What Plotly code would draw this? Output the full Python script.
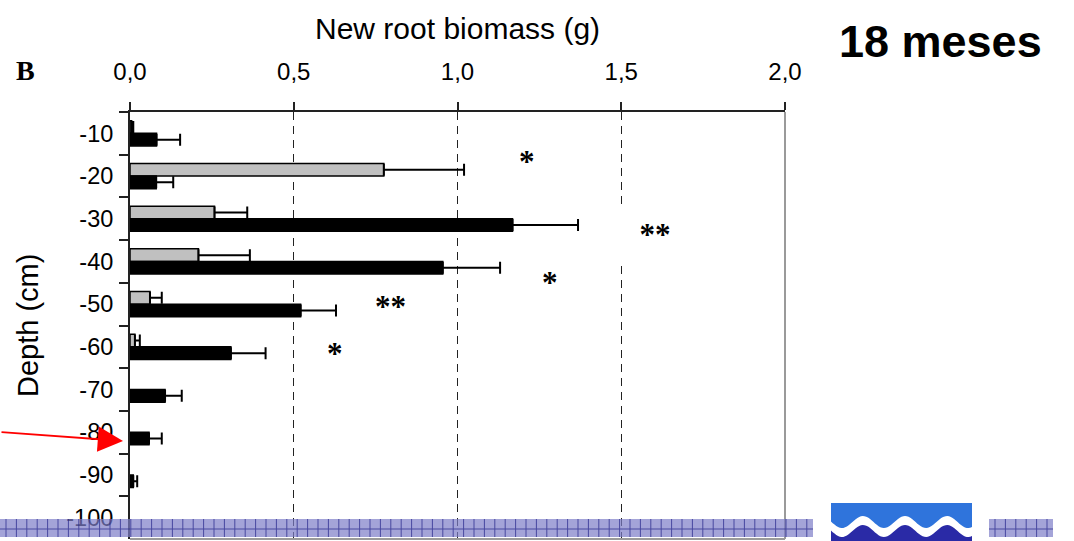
import math
import plotly.graph_objects as go

# ---------------- data ----------------
depths = ["-10", "-20", "-30", "-40", "-50", "-60", "-70", "-80", "-90", "-100"]
gray_vals = [0.005, 0.775, 0.258, 0.209, 0.061, 0.015, None, None, None, None]
gray_err = [0.005, 0.245, 0.100, 0.157, 0.036, 0.015, None, None, None, None]
black_vals = [0.081, 0.080, 1.168, 0.955, 0.521, 0.308, 0.107, 0.058, 0.010, None]
black_err = [0.072, 0.052, 0.200, 0.175, 0.108, 0.106, 0.051, 0.039, 0.012, None]
x_ticks = [0.0, 0.5, 1.0, 1.5, 2.0]
# significance marks: (text, x value, depth index position)
stars_text = ["*", "**", "*", "**", "*"]
stars_x = [1.212, 1.603, 1.282, 0.794, 0.626]
stars_y = [0.577, 2.263, 3.388, 3.95, 5.07]

W, H = 1074, 541
L, R, T, B = 130, 785, 112, 539


def X(px):
    return (px - L) / (R - L)


def Y(py):
    return (B - py) / (B - T)


fig = go.Figure()
fig.add_trace(go.Bar(
    y=depths, x=gray_vals, orientation="h",
    marker=dict(color="#c0c0c0", line=dict(color="black", width=1.5)),
    error_x=dict(type="data", symmetric=False, array=gray_err,
                 arrayminus=[0] * len(depths), color="black", thickness=2, width=6),
    showlegend=False,
))
fig.add_trace(go.Bar(
    y=depths, x=black_vals, orientation="h",
    marker=dict(color="black", line=dict(color="black", width=1.5)),
    error_x=dict(type="data", symmetric=False, array=black_err,
                 arrayminus=[0] * len(depths), color="black", thickness=2, width=6),
    showlegend=False,
))

annotations = []
for t, xv, yv in zip(stars_text, stars_x, stars_y):
    a = dict(text="<b>" + t + "</b>", x=xv, y=yv, xref="x", yref="y", showarrow=False,
             yshift=-4,
             font=dict(family="Liberation Serif", size=31, color="black"))
    if t == "**" and xv > 1.5:
        a.update(bgcolor="white", width=80, height=50)
    annotations.append(a)

annotations += [
    dict(text="New root biomass (g)", x=0.5, y=Y(28), xref="paper", yref="paper",
         showarrow=False, xanchor="center", yanchor="middle",
         font=dict(family="Liberation Sans", size=30, color="black")),
    dict(text="Depth (cm)", x=X(28), y=Y(326), xref="paper", yref="paper",
         showarrow=False, textangle=-90, xanchor="center", yanchor="middle",
         font=dict(family="Liberation Sans", size=29, color="black")),
    dict(text="<b>B</b>", x=X(25), y=Y(71), xref="paper", yref="paper",
         showarrow=False, xanchor="center", yanchor="middle",
         font=dict(family="Liberation Serif", size=28, color="black")),
    dict(text="<b>18 meses</b>", x=X(941), y=Y(41), xref="paper", yref="paper",
         showarrow=False, xanchor="center", yanchor="middle",
         font=dict(family="Liberation Sans", size=45, color="black")),
    dict(text="", x=X(123), y=Y(441), xref="paper", yref="paper",
         showarrow=True, ax=-123, ay=-9, arrowcolor="red", arrowwidth=1.8,
         arrowhead=2, arrowsize=2.8, standoff=0),
]

shapes = [
    # right and bottom frame (gray)
    dict(type="line", xref="paper", yref="paper", x0=1, x1=1, y0=0, y1=1,
         line=dict(color="#9a9a9a", width=2), layer="above"),
    dict(type="line", xref="paper", yref="paper", x0=0, x1=1, y0=0, y1=0,
         line=dict(color="#9a9a9a", width=2), layer="above"),
]

# decorative patterned strip
for x0p, x1p in [(0, 813), (989, 1053)]:
    shapes.append(dict(type="rect", xref="paper", yref="paper",
                       x0=X(x0p), x1=X(x1p), y0=Y(537), y1=Y(519),
                       fillcolor="#7e7ec8", opacity=0.7, line=dict(width=0), layer="above"))
    path = ""
    xx = x0p + 6
    while xx < x1p:
        path += f"M{X(xx)},{Y(519)} L{X(xx)},{Y(537)} "
        xx += 10.4
    path += f"M{X(x0p)},{Y(529)} L{X(x1p)},{Y(529)}"
    shapes.append(dict(type="path", xref="paper", yref="paper", path=path,
                       line=dict(color="#2a2a8e", width=1), opacity=0.75, layer="above"))

# decorative logo
lx0, lx1 = 831, 972
shapes.append(dict(type="rect", xref="paper", yref="paper", x0=X(lx0), x1=X(lx1),
                   y0=Y(541), y1=Y(503), fillcolor="#2f74dc", line=dict(width=0), layer="above"))


def wave(off):
    pts = []
    n = 80
    for i in range(n + 1):
        px = lx0 + (lx1 - lx0) * i / n
        py = 522 + off - 6 * math.cos(2 * math.pi * (px - 863) / 42)
        pts.append((px, py))
    return pts


for off, col in [(0, "white"), (9, "#2a2aa6")]:
    pts = wave(off)
    p = "M" + " L".join(f"{X(a)},{Y(b)}" for a, b in pts)
    p += f" L{X(lx1)},{Y(541)} L{X(lx0)},{Y(541)} Z"
    shapes.append(dict(type="path", xref="paper", yref="paper", path=p,
                       fillcolor=col, line=dict(width=0), layer="above"))

fig.update_layout(
    width=W, height=H,
    margin=dict(l=L, r=W - R, t=T, b=H - B, pad=0),
    paper_bgcolor="white", plot_bgcolor="white",
    barmode="group", bargap=0.41, bargroupgap=0,
    separators=",.",
    font=dict(family="Liberation Sans", color="black"),
    annotations=annotations, shapes=shapes,
    xaxis=dict(side="top", range=[0, 2], tickvals=x_ticks, tickformat=".1f",
               showgrid=True, gridcolor="#222", griddash="8px,6px", gridwidth=1,
               showline=True, linecolor="#222", linewidth=2,
               ticks="outside", ticklen=8, tickcolor="#222", tickwidth=1.5,
               ticklabelstandoff=12, tickfont=dict(size=24), zeroline=False),
    yaxis=dict(type="category", categoryorder="array", categoryarray=depths,
               autorange="reversed", showgrid=False, showline=True,
               linecolor="#222", linewidth=2, ticks="outside", ticklen=9,
               tickson="boundaries", tickcolor="#222", tickwidth=1.5,
               ticklabelstandoff=10, tickfont=dict(size=23.5), zeroline=False),
)

fig.write_html("out.html")
